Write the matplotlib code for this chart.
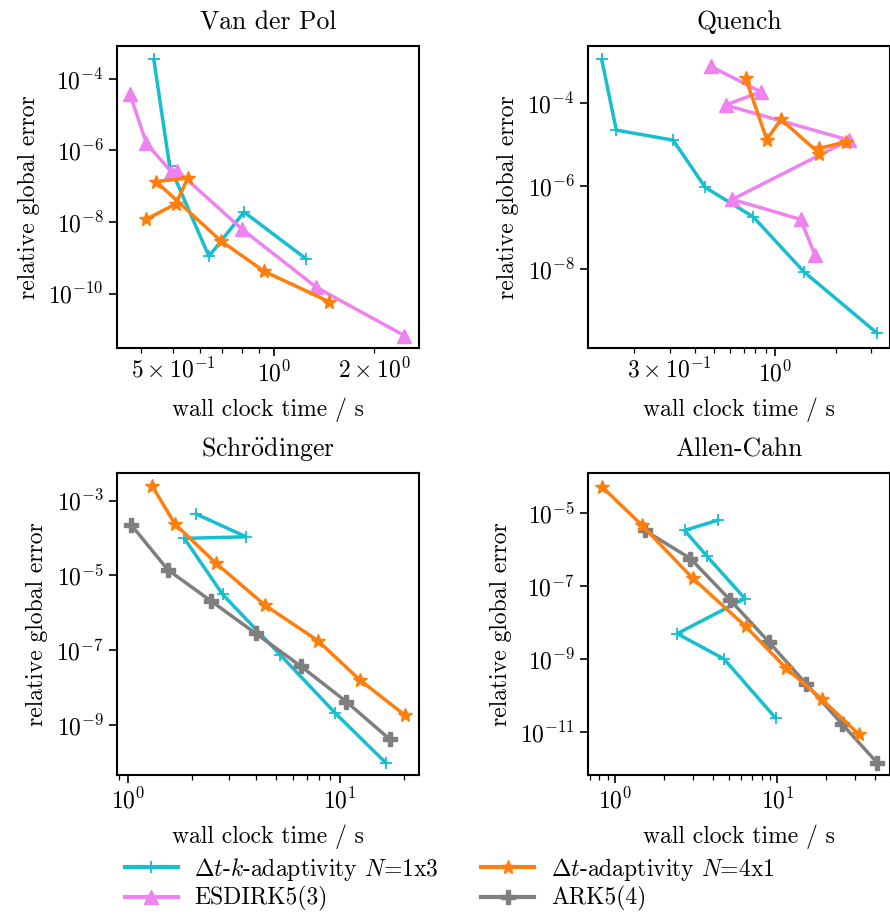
import numpy as np
import matplotlib
matplotlib.use("Agg")
import matplotlib.pyplot as plt
from matplotlib.ticker import FuncFormatter, NullLocator, LogLocator

plt.rcParams['font.family'] = ['cmr10', 'DejaVu Serif']
plt.rcParams['mathtext.fontset'] = 'cm'
plt.rcParams['axes.formatter.use_mathtext'] = True
plt.rcParams['font.size'] = 17

#####################################################################
# data (wall clock time / s, relative global error)
#####################################################################

# Van der Pol
vdp_tk_t = [0.437, 0.487, 0.639, 0.814, 1.25]
vdp_tk_e = [3.5e-4, 3.8e-7, 1.1e-9, 1.9e-8, 9.3e-10]
vdp_t_t = [0.415, 0.508, 0.553, 0.444, 0.693, 0.935, 1.46]
vdp_t_e = [1.2e-8, 3.2e-8, 1.7e-7, 1.35e-7, 3.0e-9, 4.2e-10, 6.0e-11]
vdp_es_t = [0.371, 0.415, 0.493, 0.514, 0.803, 1.34, 2.46]
vdp_es_e = [3.7e-5, 1.6e-6, 2.5e-7, 2.7e-7, 6.3e-9, 1.5e-10, 6.7e-12]

# Quench
qu_tk_t = [0.138, 0.163, 0.312, 0.451, 0.778, 1.39, 3.21]
qu_tk_e = [1.11e-3, 2.2e-5, 1.26e-5, 9.1e-7, 1.8e-7, 8.5e-9, 2.8e-10]
qu_t_t = [0.715, 0.910, 1.07, 1.66, 1.66, 2.25]
qu_t_e = [3.9e-4, 1.3e-5, 4.0e-5, 6.0e-6, 8.0e-6, 1.15e-5]
qu_es_t = [0.479, 0.849, 0.569, 2.33, 0.614, 1.34, 1.58]
qu_es_e = [7.6e-4, 1.85e-4, 8.8e-5, 1.26e-5, 4.7e-7, 1.55e-7, 2.1e-8]

# Schrödinger
sc_tk_t = [2.09, 3.60, 1.84, 2.79, 5.21, 9.47, 16.5]
sc_tk_e = [4.4e-4, 1.08e-4, 9.8e-5, 3.1e-6, 7.6e-8, 2.1e-9, 9.5e-11]
sc_t_t = [1.30, 1.66, 2.60, 4.42, 7.85, 12.4, 20.3]
sc_t_e = [2.4e-3, 2.4e-4, 2.1e-5, 1.6e-6, 1.8e-7, 1.6e-8, 1.8e-9]
sc_ark_t = [1.03, 1.54, 2.45, 4.0, 6.54, 10.7, 17.2]
sc_ark_e = [2.3e-4, 1.4e-5, 2.1e-6, 2.8e-7, 3.7e-8, 4.2e-9, 4.1e-10]

# Allen-Cahn
ac_tk_t = [4.31, 2.68, 3.69, 6.31, 2.41, 4.68, 9.76]
ac_tk_e = [6.3e-6, 3.3e-6, 6.4e-7, 4.5e-8, 4.9e-9, 1.0e-9, 2.4e-11]
ac_t_t = [0.828, 1.46, 3.01, 6.37, 11.3, 18.8, 31.7]
ac_t_e = [5.2e-5, 4.6e-6, 1.6e-7, 7.8e-9, 5.6e-10, 7.9e-11, 8.7e-12]
ac_ark_t = [1.52, 2.91, 5.14, 8.87, 15.0, 25.2, 41.1]
ac_ark_e = [3.3e-6, 5.6e-7, 4.0e-8, 2.9e-9, 2.1e-10, 1.6e-11, 1.45e-12]

TITLES = ["Van der Pol", "Quench", r"Schr$\ddot{\mathrm{o}}$dinger", "Allen-Cahn"]

LABEL_TK = r"$\Delta t$-$k$-adaptivity $N$=1x3"
LABEL_T = r"$\Delta t$-adaptivity $N$=4x1"
LABEL_ES = "ESDIRK5(3)"
LABEL_ARK = "ARK5(4)"

STYLE = {
    "tk": dict(color="#17becf", marker="+", ms=9, mew=1.3, label=LABEL_TK),
    "t": dict(color="#ff7f0e", marker="*", ms=10, label=LABEL_T),
    "es": dict(color="violet", marker="^", ms=10, label=LABEL_ES),
    "ark": dict(color="#7f7f7f", marker="P", ms=10, label=LABEL_ARK),
}

fig = plt.figure(figsize=(8.9, 9.15), dpi=100)
W, H = 890, 915


def make_axes(x0, y0):
    return fig.add_axes([x0 / W, 1 - (y0 + 302) / H, 302 / W, 302 / H])


ax_vdp = make_axes(117, 46)
ax_qu = make_axes(588, 46)
ax_sc = make_axes(117, 473)
ax_ac = make_axes(588, 473)


def minor_fmt(labels):
    def f(x, pos):
        for v, s in labels:
            if abs(x - v) / v < 1e-6:
                return s
        return ""
    return FuncFormatter(f)


def setup(ax, title, xlim, ylim, yticks, xminor_labels):
    ax.set_xscale("log")
    ax.set_yscale("log")
    ax.set_xlim(*xlim)
    ax.set_ylim(*ylim)
    ax.set_yticks(yticks)
    ax.yaxis.set_minor_locator(NullLocator())
    ax.xaxis.set_minor_locator(LogLocator(base=10, subs=np.arange(2, 10)))
    ax.xaxis.set_minor_formatter(minor_fmt(xminor_labels))
    ax.set_title(title, fontsize=18.5, pad=12)
    ax.set_xlabel("wall clock time / s", labelpad=8)
    ax.set_ylabel("relative global error", labelpad=6)
    for sp in ax.spines.values():
        sp.set_linewidth(1.5)
    ax.tick_params(which="major", length=6, width=1.2, labelsize=17)
    ax.tick_params(which="minor", length=3.5, width=0.9, labelsize=17)


lw = 2.5

ax_vdp.plot(vdp_tk_t, vdp_tk_e, lw=lw, **STYLE["tk"])
ax_vdp.plot(vdp_es_t, vdp_es_e, lw=lw, **STYLE["es"])
ax_vdp.plot(vdp_t_t, vdp_t_e, lw=lw, **STYLE["t"])
setup(ax_vdp, TITLES[0], (0.339, 2.72), (10 ** -11.52, 10 ** -3.08),
      [1e-4, 1e-6, 1e-8, 1e-10],
      [(0.5, r"$5\times10^{-1}$"), (2.0, r"$2\times10^{0}$")])

ax_qu.plot(qu_tk_t, qu_tk_e, lw=lw, **STYLE["tk"])
ax_qu.plot(qu_es_t, qu_es_e, lw=lw, **STYLE["es"])
ax_qu.plot(qu_t_t, qu_t_e, lw=lw, **STYLE["t"])
setup(ax_qu, TITLES[1], (0.118, 3.72), (10 ** -9.91, 10 ** -2.63),
      [1e-4, 1e-6, 1e-8],
      [(0.3, r"$3\times10^{-1}$")])

ax_sc.plot(sc_tk_t, sc_tk_e, lw=lw, **STYLE["tk"])
ax_sc.plot(sc_ark_t, sc_ark_e, lw=lw, **STYLE["ark"])
ax_sc.plot(sc_t_t, sc_t_e, lw=lw, **STYLE["t"])
setup(ax_sc, TITLES[2], (0.885, 23.6), (10 ** -10.34, 10 ** -2.26),
      [1e-3, 1e-5, 1e-7, 1e-9], [])

ax_ac.plot(ac_tk_t, ac_tk_e, lw=lw, **STYLE["tk"])
ax_ac.plot(ac_ark_t, ac_ark_e, lw=lw, **STYLE["ark"])
ax_ac.plot(ac_t_t, ac_t_e, lw=lw, **STYLE["t"])
setup(ax_ac, TITLES[3], (0.68, 49.5), (10 ** -12.18, 10 ** -3.91),
      [1e-5, 1e-7, 1e-9, 1e-11], [])

# legend
handles = [
    plt.Line2D([], [], lw=lw + 0.5, **STYLE["tk"]),
    plt.Line2D([], [], lw=lw + 0.5, **STYLE["es"]),
    plt.Line2D([], [], lw=lw + 0.5, **STYLE["t"]),
    plt.Line2D([], [], lw=lw + 0.5, **STYLE["ark"]),
]
fig.legend(handles=handles, loc="upper center", bbox_to_anchor=(0.505, 0.088),
           ncol=2, frameon=False, handlelength=2.25, handletextpad=0.7,
           columnspacing=1.8, labelspacing=0.15, fontsize=17)

fig.savefig("out.png", dpi=100)
